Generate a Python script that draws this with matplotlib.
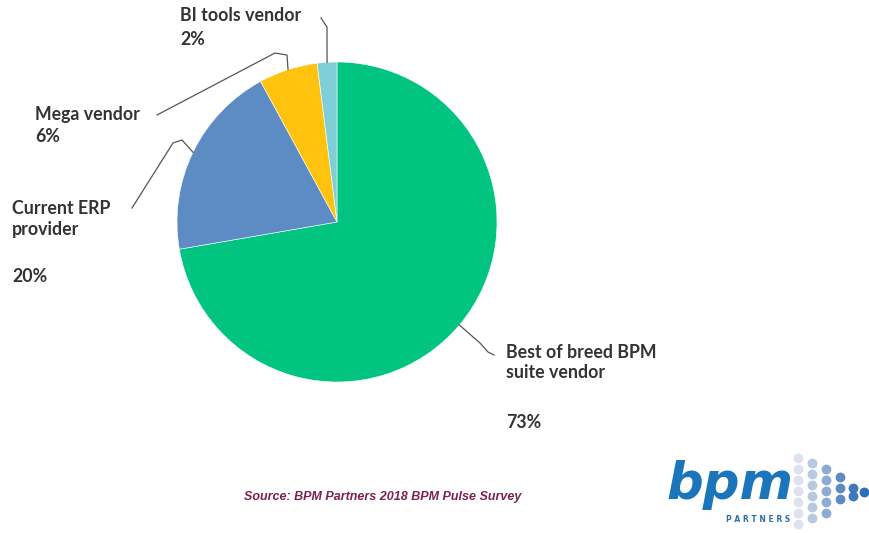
import numpy as np
import matplotlib
matplotlib.use("Agg")
import matplotlib.pyplot as plt

# survey shares (percent)
labels = ["Best of breed BPM\nsuite vendor", "Current ERP\nprovider", "Mega vendor", "BI tools vendor"]
pct_text = ["73%", "20%", "6%", "2%"]
values = [73, 20, 6, 2]
colors = ["#00C47F", "#5D8CC4", "#FFC20E", "#7FCFD8"]

W, H = 870, 533
fig = plt.figure(figsize=(W / 100, H / 100), dpi=100)
ax = fig.add_axes([0, 0, 1, 1])

cx, cy, r = 337, H - 222, 160
wedges, _ = ax.pie(values, startangle=90, counterclock=False, colors=colors,
                   center=(cx, cy), radius=r,
                   wedgeprops=dict(edgecolor="white", linewidth=0.4))
ax.set_xlim(0, W)
ax.set_ylim(0, H)
ax.set_aspect("equal")
ax.axis("off")


def img(x, y):
    return x, H - y


txt = dict(family="Lato", fontweight="bold", fontsize=12.8, color="#333333",
           va="top", ha="left", linespacing=1.25)

# label positions (image pixel coords) and leader line bends
label_pos = [(506, 344), (12, 200), (35, 106), (180, 7)]
pct_pos = [(506, 414), (12, 268), (35, 128), (180, 31)]
bends = [
    [(480, 343), (488, 352), (494, 355)],
    [(182, 140), (173, 143), (132, 208)],
    [(287, 55), (275, 53), (157, 115)],
    [(327, 27), (321, 18)],
]

for w, lab, pt, lp, pp, bd in zip(wedges, labels, pct_text, label_pos, pct_pos, bends):
    mid = np.deg2rad((w.theta1 + w.theta2) / 2)
    x0, y0 = cx + r * np.cos(mid), cy + r * np.sin(mid)
    xs = [x0] + [img(*b)[0] for b in bd]
    ys = [y0] + [img(*b)[1] for b in bd]
    ax.plot(xs, ys, color="#555555", lw=0.9)
    ax.text(*img(*lp), lab, **txt)
    ax.text(*img(*pp), pt, **txt)

ax.text(*img(383, 497), "Source: BPM Partners 2018 BPM Pulse Survey",
        family="Liberation Sans", fontweight="bold", style="italic",
        fontsize=9, color="#7A2350", ha="center", va="center")

# logo
ax.text(*img(666, 485), "bpm", family="DejaVu Sans", fontweight="bold",
        style="italic", fontsize=37, color="#1B75BB", ha="left", va="center")
ax.text(*img(758, 519), "P A R T N E R S", family="DejaVu Sans",
        fontweight="bold", fontsize=5.5, color="#2F6FA8", ha="center", va="center")
dot_cols = [(798, [458, 469, 480, 491, 502, 513, 524], "#DCE3EE"),
            (812, [463, 474, 485, 496, 507, 518], "#B7C9E0"),
            (826, [469, 480, 491, 502, 513], "#8EABD3"),
            (840, [477, 488, 499], "#5E8BC4"),
            (853, [488, 496], "#3F78B9"),
            (864, [492], "#2F6FB5")]
for x, ys, c in dot_cols:
    ax.scatter([img(x, y)[0] for y in ys], [img(x, y)[1] for y in ys],
               s=50, color=c, linewidths=0, zorder=3)

fig.savefig("out.png", dpi=100, facecolor="white")
